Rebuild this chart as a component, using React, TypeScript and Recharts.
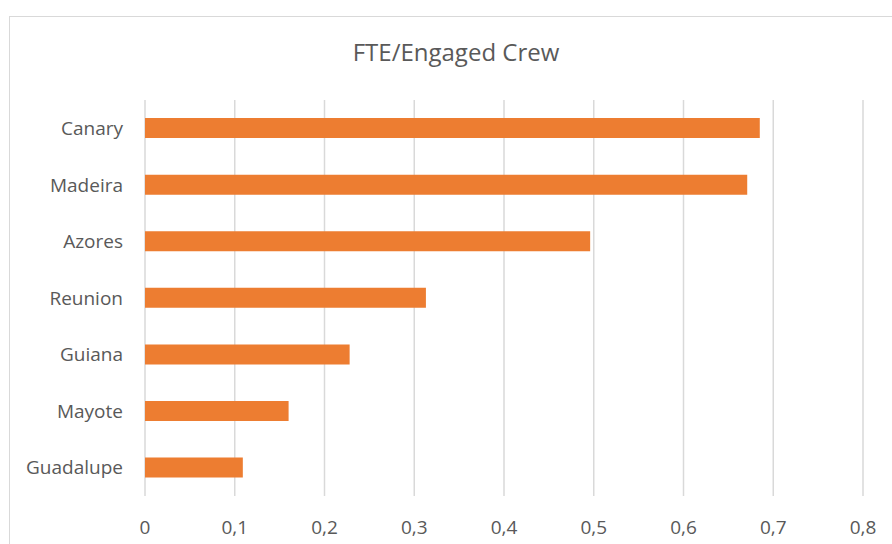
import React from 'react';
import { BarChart, Bar, XAxis, YAxis, CartesianGrid } from 'recharts';

const regions = ['Canary', 'Madeira', 'Azores', 'Reunion', 'Guiana', 'Mayote', 'Guadalupe'];
const fteValues = [0.685, 0.671, 0.496, 0.313, 0.228, 0.16, 0.109];
const xTicks = [0, 0.1, 0.2, 0.3, 0.4, 0.5, 0.6, 0.7, 0.8];

const data = regions.map((name, i) => ({ name, value: fteValues[i] }));

const font = '"Open Sans", sans-serif';
const textColor = '#595959';

export default function App() {
  return (
    <div style={{ position: 'fixed', left: 0, top: 0, width: 892, height: 544, overflow: 'hidden', background: '#fff' }}>
      {/* chart frame, cropped on the right and bottom like the screenshot */}
      <div style={{ position: 'absolute', left: 9, top: 16, width: 894, height: 560, border: '1.5px solid #d9d9d9', boxSizing: 'border-box' }} />
      <div
        style={{
          position: 'absolute', left: 9, width: 894, top: 35, textAlign: 'center',
          fontFamily: font, fontSize: 24, color: textColor,
        }}
      >
        FTE/Engaged Crew
      </div>
      <div style={{ position: 'absolute', left: 0, top: 0 }}>
        <BarChart
          width={892}
          height={544}
          data={data}
          layout="vertical"
          margin={{ top: 100, right: 29, bottom: 18, left: 0 }}
          barCategoryGap="32%"
        >
          <CartesianGrid horizontal={false} stroke="#d9d9d9" strokeWidth={1.5} />
          <XAxis
            type="number"
            domain={[0, 0.8]}
            ticks={xTicks}
            axisLine={false}
            tickLine={false}
            tickMargin={19}
            tickFormatter={(v: number) => String(v).replace('.', ',')}
            tick={{ fill: textColor, fontSize: 19, fontFamily: font }}
          />
          <YAxis
            type="category"
            dataKey="name"
            width={145}
            axisLine={false}
            tickLine={false}
            tickMargin={16}
            tick={{ fill: textColor, fontSize: 19, fontFamily: font }}
          />
          <Bar dataKey="value" fill="#ED7D31" isAnimationActive={false} />
        </BarChart>
      </div>
    </div>
  );
}
